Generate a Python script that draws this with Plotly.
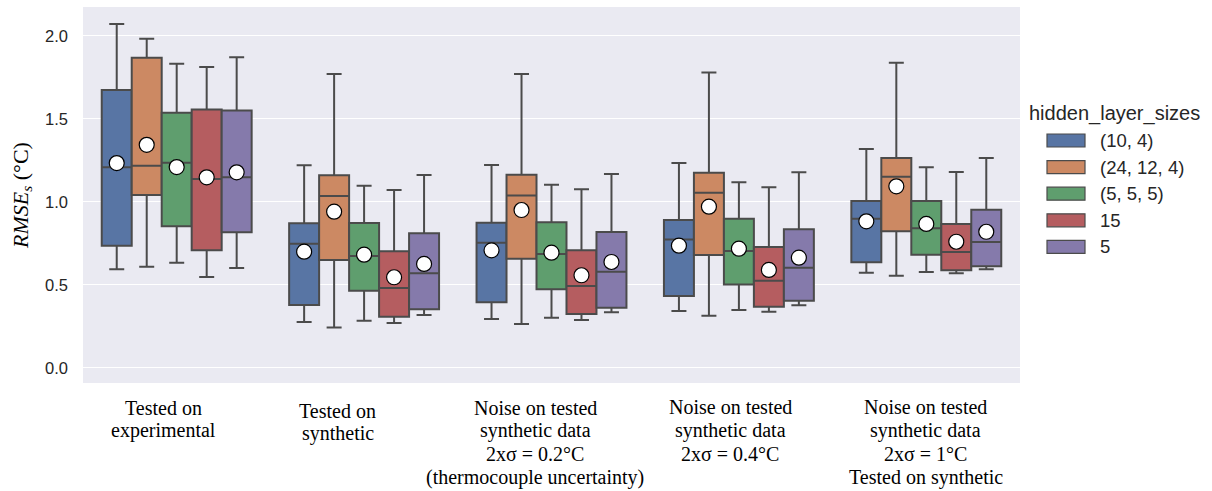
import plotly.graph_objects as go

# ---------------- data ----------------
categories = [
    "Tested on<br>experimental",
    "Tested on<br>synthetic",
    "Noise on tested<br>synthetic data<br>2xσ = 0.2°C<br>(thermocouple uncertainty)",
    "Noise on tested<br>synthetic data<br>2xσ = 0.4°C",
    "Noise on tested<br>synthetic data<br>2xσ = 1°C<br>Tested on synthetic",
]
hue_names = ["(10, 4)", "(24, 12, 4)", "(5, 5, 5)", "15", "5"]

# per hue: values for the 5 categories
lower_10_4   = [0.593, 0.275, 0.293, 0.342, 0.572]
q1_10_4      = [0.735, 0.378, 0.394, 0.432, 0.635]
med_10_4     = [1.207, 0.747, 0.753, 0.773, 0.898]
q3_10_4      = [1.673, 0.870, 0.874, 0.890, 1.004]
upper_10_4   = [2.070, 1.219, 1.221, 1.233, 1.317]
mean_10_4    = [1.233, 0.699, 0.707, 0.735, 0.882]

lower_24_12_4 = [0.608, 0.243, 0.263, 0.313, 0.554]
q1_24_12_4    = [1.040, 0.649, 0.657, 0.679, 0.822]
med_24_12_4   = [1.217, 1.034, 1.038, 1.054, 1.151]
q3_24_12_4    = [1.867, 1.159, 1.163, 1.175, 1.263]
upper_24_12_4 = [1.982, 1.769, 1.769, 1.779, 1.837]
mean_24_12_4  = [1.343, 0.940, 0.950, 0.970, 1.093]

lower_5_5_5 = [0.633, 0.283, 0.301, 0.348, 0.576]
q1_5_5_5    = [0.852, 0.464, 0.472, 0.502, 0.681]
med_5_5_5   = [1.235, 0.673, 0.685, 0.703, 0.840]
q3_5_5_5    = [1.536, 0.872, 0.876, 0.898, 1.004]
upper_5_5_5 = [1.831, 1.096, 1.102, 1.117, 1.207]
mean_5_5_5  = [1.209, 0.681, 0.693, 0.717, 0.866]

lower_15 = [0.546, 0.269, 0.287, 0.337, 0.569]
q1_15    = [0.707, 0.307, 0.323, 0.367, 0.587]
med_15   = [1.137, 0.480, 0.492, 0.524, 0.697]
q3_15    = [1.556, 0.701, 0.707, 0.727, 0.866]
upper_15 = [1.811, 1.070, 1.075, 1.087, 1.179]
mean_15  = [1.147, 0.545, 0.557, 0.589, 0.759]

lower_5 = [0.601, 0.317, 0.334, 0.376, 0.593]
q1_5    = [0.816, 0.352, 0.361, 0.404, 0.611]
med_5   = [1.147, 0.569, 0.578, 0.602, 0.757]
q3_5    = [1.550, 0.810, 0.817, 0.834, 0.952]
upper_5 = [1.870, 1.161, 1.167, 1.177, 1.263]
mean_5  = [1.177, 0.625, 0.637, 0.663, 0.819]

y_ticks = [0.0, 0.5, 1.0, 1.5, 2.0]

stats = [
    (lower_10_4, q1_10_4, med_10_4, q3_10_4, upper_10_4, mean_10_4),
    (lower_24_12_4, q1_24_12_4, med_24_12_4, q3_24_12_4, upper_24_12_4, mean_24_12_4),
    (lower_5_5_5, q1_5_5_5, med_5_5_5, q3_5_5_5, upper_5_5_5, mean_5_5_5),
    (lower_15, q1_15, med_15, q3_15, upper_15, mean_15),
    (lower_5, q1_5, med_5, q3_5, upper_5, mean_5),
]

# ---------------- styles ----------------
colors = ["#5875a4", "#cc8963", "#5f9e6e", "#b55d60", "#857aab"]
edge = "#4b4b4b"
n_hue = len(hue_names)
group_width = 0.8
box_w = group_width / n_hue

fig = go.Figure()
for i, (name, st) in enumerate(zip(hue_names, stats)):
    lo, q1, med, q3, up, mn = st
    off = -group_width / 2 + box_w * (i + 0.5)
    xs = [g + off for g in range(len(categories))]
    fig.add_trace(go.Box(
        x=xs, q1=q1, median=med, q3=q3, lowerfence=lo, upperfence=up,
        width=box_w, whiskerwidth=0.5,
        fillcolor=colors[i], line=dict(color=edge, width=2),
        name=name, showlegend=False, hoverinfo="skip",
    ))
for i, (name, st) in enumerate(zip(hue_names, stats)):
    mn = st[5]
    off = -group_width / 2 + box_w * (i + 0.5)
    xs = [g + off for g in range(len(categories))]
    fig.add_trace(go.Scatter(
        x=xs, y=mn, mode="markers",
        marker=dict(color="white", size=15, line=dict(color="black", width=1.2)),
        showlegend=False, hoverinfo="skip",
    ))

# ---------------- layout ----------------
W, H = 1212, 491
L, R, T, B = 83, 1020, 7, 383


def px_x(px):
    return (px - L) / (R - L)


def px_y(py):
    return (B - py) / (B - T)


shapes = []
annotations = []

# category labels (one annotation per text line), placed as in the reference
label_center_px = [163, 337.5, 535, 730, 925.5]
label_first_line_px = [407.5, 410.5, 407.5, 407, 407]
line_step_px = 23.4
for g, cat in enumerate(categories):
    for k, line in enumerate(cat.split("<br>")):
        annotations.append(dict(
            text=line, xref="paper", yref="paper", x=px_x(label_center_px[g]),
            y=px_y(label_first_line_px[g] + k * line_step_px),
            xanchor="center", yanchor="middle", showarrow=False,
            font=dict(family="Liberation Serif", size=20, color="black"),
        ))

# manual legend
annotations.append(dict(
    text="hidden_layer_sizes", xref="paper", yref="paper",
    x=px_x(1027), y=px_y(114), xanchor="left", yanchor="middle",
    showarrow=False, font=dict(family="Liberation Sans", size=20, color="#262626"),
))
for i, name in enumerate(hue_names):
    cy = 140.5 + i * 26.6
    shapes.append(dict(
        type="rect", xref="paper", yref="paper",
        x0=px_x(1047), x1=px_x(1085), y0=px_y(cy - 6.5), y1=px_y(cy + 6.5),
        fillcolor=colors[i], line=dict(color=edge, width=1.2),
    ))
    annotations.append(dict(
        text=name, xref="paper", yref="paper",
        x=px_x(1098), y=px_y(cy), xanchor="left", yanchor="middle",
        showarrow=False, font=dict(family="Liberation Sans", size=18.5, color="#262626"),
    ))

fig.update_layout(
    width=W, height=H,
    margin=dict(l=L, r=W - R, t=T, b=H - B, pad=0, autoexpand=False),
    paper_bgcolor="white", plot_bgcolor="#eaeaf2",
    boxmode="overlay",
    shapes=shapes, annotations=annotations,
    showlegend=False,
    xaxis=dict(
        range=[-0.5, len(categories) - 0.5],
        showticklabels=False, automargin=False,
        showgrid=False, zeroline=False, ticks="", showline=False,
    ),
    yaxis=dict(
        range=[-0.092, 2.173], automargin=False,
        tickvals=y_ticks, ticktext=[f"{v:.1f}" for v in y_ticks],
        showgrid=True, gridcolor="white", gridwidth=1.3, zeroline=False,
        ticks="", showline=False,
        tickfont=dict(family="Liberation Sans", size=16.5, color="#262626"),
        ticklabelstandoff=14,
        title=dict(text="<i>RMSE<sub>s</sub></i> (°C)",
                   font=dict(family="Liberation Serif", size=22, color="black"),
                   standoff=10),
    ),
)

fig.write_html(
    "out.html",
    config={"displayModeBar": False},
    post_script="document.body.style.margin='0';document.body.style.overflow='hidden';",
)
